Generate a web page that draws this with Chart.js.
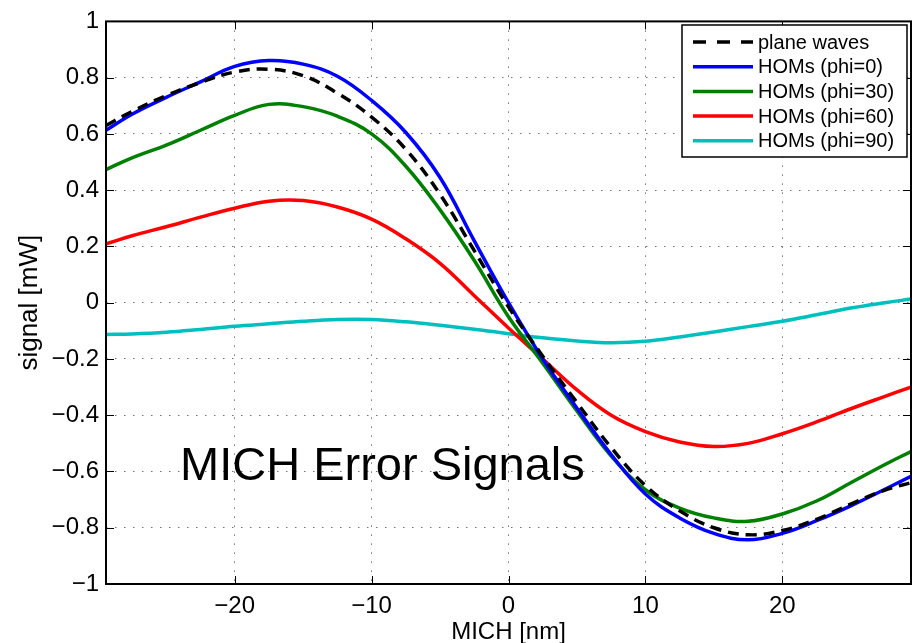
<!DOCTYPE html>
<html>
<head>
<meta charset="utf-8">
<script src="https://cdn.jsdelivr.net/npm/chart.js@4"></script>
<style>
  html, body { margin: 0; padding: 0; background: #fff; }
  canvas { display: block; }
</style>
</head>
<body>
<canvas id="chart" width="912" height="643"></canvas>
<script>
// MICH offset [nm]
const mich = [-29.4, -27.5, -25, -22.5, -20, -17.5, -15, -12.5, -10, -7.5, -5, -2.5, 0,
              2.5, 5, 7.5, 10, 12.5, 15, 17.5, 20, 22.5, 25, 27.5, 29.4]

// signal [mW]
const planeWaves = [0.63, 0.68, 0.736, 0.783, 0.82, 0.83, 0.807, 0.745, 0.66, 0.545, 0.385, 0.185, -0.015,
                    -0.19, -0.355, -0.515, -0.65, -0.74, -0.8, -0.825, -0.81, -0.77, -0.716, -0.666, -0.64]
const homPhi0   = [0.613, 0.67, 0.73, 0.785, 0.84, 0.861, 0.848, 0.805, 0.719, 0.605, 0.445, 0.22, 0.0,
                   -0.2, -0.375, -0.54, -0.68, -0.765, -0.82, -0.843, -0.82, -0.775, -0.722, -0.663, -0.617]
const homPhi30  = [0.473, 0.515, 0.56, 0.613, 0.666, 0.705, 0.697, 0.663, 0.6, 0.485, 0.33, 0.15, -0.05,
                   -0.215, -0.385, -0.545, -0.665, -0.73, -0.765, -0.777, -0.751, -0.705, -0.64, -0.575, -0.529]
const homPhi60  = [0.209, 0.238, 0.27, 0.304, 0.336, 0.361, 0.363, 0.34, 0.297, 0.227, 0.14, 0.025, -0.09,
                   -0.2, -0.31, -0.4, -0.458, -0.495, -0.511, -0.5, -0.466, -0.424, -0.377, -0.333, -0.3]
const homPhi90  = [-0.113, -0.111, -0.105, -0.095, -0.084, -0.075, -0.066, -0.06, -0.06, -0.068, -0.08, -0.094, -0.11,
                   -0.125, -0.136, -0.142, -0.137, -0.122, -0.104, -0.085, -0.066, -0.043, -0.019, 0.0, 0.013]

const xTicks = [-20, -10, 0, 10, 20]
const yTicks = [-1, -0.8, -0.6, -0.4, -0.2, 0, 0.2, 0.4, 0.6, 0.8, 1]

const FONT = "'Liberation Sans', Arial, Helvetica, sans-serif"

const fmtTick = v => {
  const s = String(Math.round(v * 10) / 10)
  return s.replace('-', '\u2212')
}

const pts = ys => mich.map((x, i) => ({ x, y: ys[i] }))

// frame, inward ticks, legend box and text label
const decorations = {
  id: 'decorations',
  afterDraw(chart) {
    const { ctx, chartArea: a, scales: { x, y } } = chart
    ctx.save()
    ctx.strokeStyle = '#000'
    ctx.lineWidth = 1
    ctx.beginPath()
    xTicks.forEach(v => {
      const px = Math.round(x.getPixelForValue(v)) + 0.5
      ctx.moveTo(px, a.bottom); ctx.lineTo(px, a.bottom - 8)
      ctx.moveTo(px, a.top);    ctx.lineTo(px, a.top + 8)
    })
    yTicks.forEach(v => {
      const py = Math.round(y.getPixelForValue(v)) + 0.5
      ctx.moveTo(a.left, py);  ctx.lineTo(a.left + 8, py)
      ctx.moveTo(a.right, py); ctx.lineTo(a.right - 8, py)
    })
    ctx.stroke()

    ctx.lineWidth = 2
    ctx.strokeRect(a.left, a.top, a.right - a.left, a.bottom - a.top)

    // annotation
    ctx.fillStyle = '#000'
    ctx.font = `47px ${FONT}`
    ctx.textBaseline = 'alphabetic'
    ctx.textAlign = 'left'
    ctx.fillText('MICH Error Signals', 180, 480)

    // legend
    const lx = 682, ly = 25, lw = 225, lh = 132
    ctx.fillStyle = '#fff'
    ctx.fillRect(lx, ly, lw, lh)
    ctx.lineWidth = 1.5
    ctx.strokeStyle = '#000'
    ctx.strokeRect(lx, ly, lw, lh)
    ctx.font = `20px ${FONT}`
    ctx.textBaseline = 'middle'
    chart.data.datasets.forEach((ds, i) => {
      const ry = 42 + i * 24.7
      ctx.strokeStyle = ds.borderColor
      ctx.lineWidth = 3.5
      ctx.setLineDash(ds.borderDash ? [13, 11] : [])
      ctx.beginPath()
      ctx.moveTo(693, ry); ctx.lineTo(753, ry)
      ctx.stroke()
      ctx.setLineDash([])
      ctx.fillStyle = '#000'
      ctx.fillText(ds.label, 758, ry + 1)
    })
    ctx.restore()
  }
}

new Chart(document.getElementById('chart'), {
  type: 'line',
  data: {
    datasets: [
      { label: 'plane waves',   data: pts(planeWaves), borderColor: '#000000', borderDash: [11, 7] },
      { label: 'HOMs (phi=0)',  data: pts(homPhi0),    borderColor: '#0000ff' },
      { label: 'HOMs (phi=30)', data: pts(homPhi30),   borderColor: '#008000' },
      { label: 'HOMs (phi=60)', data: pts(homPhi60),   borderColor: '#ff0000' },
      { label: 'HOMs (phi=90)', data: pts(homPhi90),   borderColor: '#00bfbf' }
    ]
  },
  options: {
    responsive: false,
    animation: false,
    layout: { padding: { top: 15, right: 1, left: 0, bottom: 0 } },
    elements: {
      point: { radius: 0 },
      line: { borderWidth: 3.5, tension: 0.4, fill: false }
    },
    plugins: {
      legend: { display: false },
      tooltip: { enabled: false }
    },
    scales: {
      x: {
        type: 'linear',
        min: -29.4,
        max: 29.4,
        afterBuildTicks: s => { s.ticks = xTicks.map(v => ({ value: v })) },
        afterFit: s => { s.height = 59 },
        grid: { color: 'rgba(0,0,0,0.55)', lineWidth: 1, drawTicks: false },
        border: { display: false, dash: [1.5, 7.5] },
        ticks: {
          autoSkip: false, maxRotation: 0, padding: 8, color: '#000',
          font: { family: FONT, size: 24 },
          callback: v => fmtTick(v)
        },
        title: {
          display: true, text: 'MICH [nm]', color: '#000',
          font: { family: FONT, size: 24, lineHeight: 1 },
          padding: { top: 0, bottom: -1 }
        }
      },
      y: {
        type: 'linear',
        min: -1,
        max: 1,
        afterBuildTicks: s => { s.ticks = yTicks.map(v => ({ value: v })) },
        afterFit: s => { s.width = 106 },
        grid: { color: 'rgba(0,0,0,0.55)', lineWidth: 1, drawTicks: false },
        border: { display: false, dash: [1.5, 7.5] },
        ticks: {
          autoSkip: false, padding: 7, color: '#000',
          font: { family: FONT, size: 24 },
          callback: v => fmtTick(v)
        },
        title: {
          display: true, text: 'signal [mW]', color: '#000',
          font: { family: FONT, size: 26, lineHeight: 1 },
          padding: { top: 17, bottom: 0 }
        }
      }
    }
  },
  plugins: [decorations]
})
</script>
</body>
</html>
